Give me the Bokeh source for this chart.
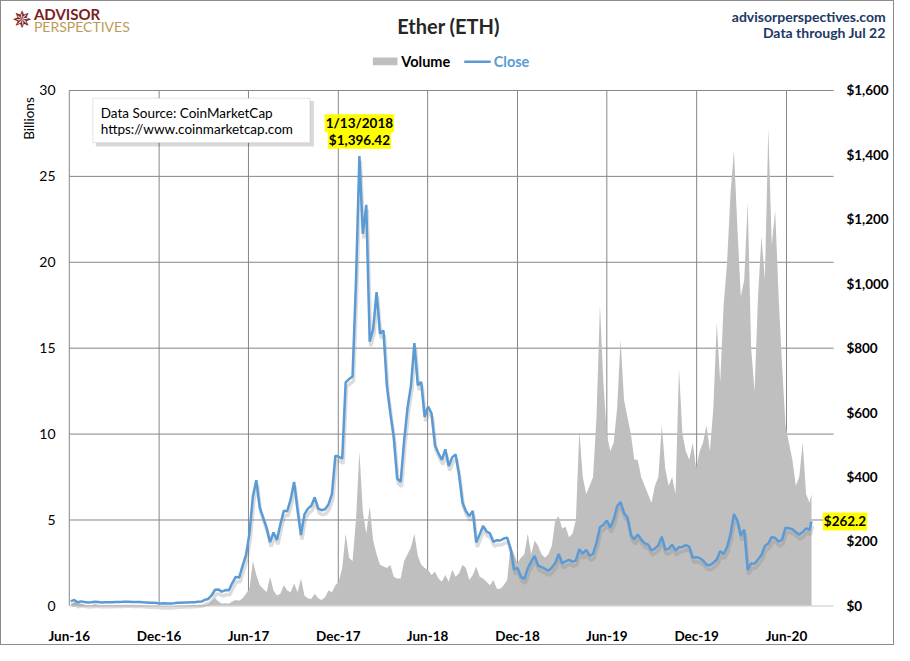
import numpy as np
import pandas as pd
from bokeh.plotting import figure
from bokeh.models import (Range1d, FixedTicker, DatetimeTickFormatter, Label,
                          BoxAnnotation, ColumnDataSource)
from bokeh.core.properties import value
from bokeh.embed import file_html
from bokeh.resources import INLINE

# ---------------- data (weekly, Saturdays from 2016-06-04, last point 2020-07-22) -------------
close_2016 = [13.8, 18.5, 11.5, 14.0,
              12.1, 10.9, 11.2, 12.9, 12.4,
              10.7, 11.6, 11.2, 11.2,
              12.1, 12.0, 12.5, 13.1,
              13.2, 12.0, 11.9, 12.0, 11.1,
              10.9, 10.1, 9.7, 8.7,
              7.7, 8.1, 7.8, 7.2, 8.0]
close_2017 = [9.9, 9.8, 10.7, 10.6,
              11.3, 11.4, 12.9, 13.4,
              19.0, 21.5, 33.0, 50.0,
              50.6, 44.4, 49.0, 48.6, 71.0,
              90.0, 88.0, 124, 158,
              225, 340, 390, 305,
              274, 242, 198, 228, 205,
              253, 295, 294, 331,
              385, 298, 220, 284, 302,
              311, 337, 302, 297,
              300, 315, 347, 466,
              463, 457, 694, 704, 712]
close_2018 = [1006, 1396.42, 1155, 1245,
              820, 860, 974, 845,
              855, 683, 599, 523, 395,
              385, 511, 615, 683,
              816, 685, 695, 587,
              619, 597, 498, 474, 453,
              486, 434, 461, 470,
              408, 321, 294, 279,
              295, 197, 222, 248, 231,
              225, 199, 204, 203,
              209, 212, 177, 113,
              118, 91, 84, 117, 138]
close_2019 = [155, 125, 120, 115,
              109, 119, 133, 161,
              132, 138, 143, 137, 141,
              176, 162, 174, 155,
              162, 196, 244, 251,
              265, 243, 268, 309, 322,
              288, 275, 220, 206,
              222, 206, 195, 190, 172,
              178, 188, 215, 174,
              177, 190, 172, 182,
              183, 189, 183, 150, 151,
              149, 141, 128, 126]
close_2020 = [134, 144, 170, 161,
              183, 223, 285, 265, 218,
              237, 112, 132, 131,
              144, 158, 186, 194,
              214, 211, 199, 206, 243,
              241, 238, 229, 221,
              229, 241, 236, 262.2]

volume_2016 = [0.08, 0.22, 0.28, 0.12,
               0.06, 0.04, 0.05, 0.10, 0.05,
               0.03, 0.02, 0.02, 0.02,
               0.02, 0.02, 0.02, 0.02,
               0.02, 0.02, 0.01, 0.01, 0.01,
               0.01, 0.01, 0.01, 0.01,
               0.01, 0.01, 0.01, 0.01, 0.01]
volume_2017 = [0.02, 0.01, 0.02, 0.01,
               0.01, 0.02, 0.02, 0.03,
               0.06, 0.08, 0.25, 0.45,
               0.25, 0.12, 0.15, 0.12, 0.25,
               0.35, 0.30, 0.45, 0.70,
               1.0, 2.6, 1.8, 1.2,
               1.0, 0.8, 1.7, 0.9, 0.6,
               0.7, 1.2, 0.9, 0.8,
               1.3, 0.8, 1.6, 0.6, 0.45,
               0.4, 0.7, 0.45, 0.35,
               0.5, 0.9, 0.8, 1.2,
               1.4, 2.2, 4.2, 2.8, 2.6]
volume_2018 = [5.0, 9.0, 5.5, 4.2,
               5.8, 3.8, 3.0, 2.4,
               2.3, 2.2, 2.4, 1.7, 1.6,
               1.6, 2.6, 3.0, 3.4,
               4.2, 2.9, 2.4, 2.2,
               2.1, 1.8, 2.0, 1.6, 1.4,
               1.8, 1.4, 2.1, 1.7,
               1.9, 2.4, 2.2, 1.5,
               1.8, 2.3, 1.7, 1.6, 1.4,
               1.2, 1.5, 1.0, 1.0,
               1.2, 1.5, 3.5, 3.0,
               2.5, 2.8, 3.0, 4.2, 3.0]
volume_2019 = [3.8, 3.5, 3.0, 2.8,
               3.0, 3.5, 5.0, 5.2,
               4.5, 4.6, 4.0, 4.2, 5.0,
               10.2, 7.5, 6.5, 7.0,
               7.5, 11.0, 17.5, 13.0,
               10.0, 9.0, 9.5, 11.5, 15.5,
               12.0, 11.0, 10.0, 8.5,
               8.5, 7.5, 7.0, 6.5, 6.0,
               7.0, 7.5, 10.5, 8.0,
               7.0, 7.5, 6.5, 13.8,
               10.0, 9.0, 8.5, 9.5, 8.0,
               9.0, 9.5, 10.5, 9.0]
volume_2020 = [11.5, 16.5, 13.0, 17.5,
               20.0, 24.0, 26.5, 22.0, 18.0,
               19.0, 23.5, 15.0, 12.5,
               18.0, 21.5, 19.0, 27.8,
               21.0, 23.0, 18.0, 14.0, 10.5,
               9.5, 8.5, 7.0, 7.5,
               9.5, 6.5, 6.0, 6.5]

xtick_dates = ["2016-06-01", "2016-12-01", "2017-06-01", "2017-12-01", "2018-06-01",
               "2018-12-01", "2019-06-01", "2019-12-01", "2020-06-01"]
left_ticks = [0, 5, 10, 15, 20, 25, 30]
left_labels = ["0", "5", "10", "15", "20", "25", "30"]
price_ticks = [0, 200, 400, 600, 800, 1000, 1200, 1400, 1600]
price_labels = ["$0", "$200", "$400", "$600", "$800", "$1,000", "$1,200", "$1,400", "$1,600"]
peak_date = "2018-01-13"
peak_text = ["1/13/2018", "$1,396.42"]
last_text = "$262.2"

# ---------------- assemble -------------
dates = list(pd.date_range("2016-06-04", "2020-07-18", freq="7D")) + [pd.Timestamp("2020-07-22")]
close = close_2016 + close_2017 + close_2018 + close_2019 + close_2020
volume = volume_2016 + volume_2017 + volume_2018 + volume_2019 + volume_2020
assert len(dates) == len(close) == len(volume), (len(dates), len(close), len(volume))

dates = pd.to_datetime(dates)
src = ColumnDataSource(dict(
    date=dates, close=close, volume=volume,
    date_s=dates + pd.Timedelta(days=2), close_s=np.array(close) - 14.0))

def ms(s):
    return pd.Timestamp(s).value / 1e6

# data window of the chart (left gridline .. right end of the plot area)
d0_ms = ms("2016-06-01")
d1_ms = ms("2020-09-05")
VMAX = left_ticks[-1]
PMAX = price_ticks[-1]

# layout helpers: positions measured on the 910x661 reference picture
def X(rx):
    return d0_ms + (rx - 69) / 778.0 * (d1_ms - d0_ms)

def Y(ry):
    return (625 - ry) / 533.0 * VMAX

FONT = "Lato"
W, H = 894, 645
FRAME_BOTTOM_REF = 637            # frame reaches a bit below the zero line
frame_h = int(round(FRAME_BOTTOM_REF * H / 661.0))
BOTTOM = H - frame_h

p = figure(width=W, height=H, x_axis_type="datetime",
           x_range=Range1d(X(0), X(910)), y_range=Range1d(Y(FRAME_BOTTOM_REF), Y(0)),
           output_backend="svg", toolbar_location=None,
           min_border_left=0, min_border_right=0, min_border_top=0, min_border_bottom=BOTTOM,
           y_axis_location=None)
p.extra_y_ranges = {"price": Range1d(Y(FRAME_BOTTOM_REF) / VMAX * PMAX, Y(0) / VMAX * PMAX)}
p.outline_line_color = None
p.background_fill_color = "white"
p.border_fill_color = "white"
p.xgrid.visible = False
p.ygrid.visible = False
p.styles = {"border": "1px solid #8c8c8c"}

xt = [ms(d) for d in xtick_dates]

# gridlines (behind the volume area)
p.segment(x0=xt, y0=[0] * len(xt), x1=xt, y1=[VMAX] * len(xt), line_color="#868686", line_width=1)
p.segment(x0=[d0_ms] * (len(left_ticks) - 1), y0=left_ticks[1:],
          x1=[d1_ms] * (len(left_ticks) - 1), y1=left_ticks[1:], line_color="#868686", line_width=1)

p.varea(x="date", y1=0, y2="volume", source=src, fill_color="#BFBFBF")
p.segment(x0=[d0_ms], y0=[0], x1=[d1_ms], y1=[0], line_color="#D9D9D9", line_width=1.5)
p.line(x="date_s", y="close_s", source=src, y_range_name="price",
       line_color="#808080", line_alpha=0.28, line_width=3.5)
p.line(x="date", y="close", source=src, y_range_name="price",
       line_color="#5B9BD5", line_width=2.5)

# bottom date axis
p.xaxis.ticker = FixedTicker(ticks=xt)
fmt = "%b-%y"
p.xaxis.formatter = DatetimeTickFormatter(milliseconds=fmt, seconds=fmt, minsec=fmt, minutes=fmt,
                                          hourmin=fmt, hours=fmt, days=fmt, months=fmt, years=fmt)
p.xaxis.major_label_text_font = FONT
p.xaxis.major_label_text_font_style = "bold"
p.xaxis.major_label_text_font_size = "13.5px"
p.xaxis.major_label_text_color = "#000000"
p.xaxis.major_tick_line_color = None
p.xaxis.minor_tick_line_color = None
p.xaxis.axis_line_color = None
p.xaxis.major_label_standoff = 4

# left and right value scales
p.text(x=[X(55)] * len(left_ticks), y=left_ticks, text=left_labels,
       text_font=value(FONT), text_font_size="14px", text_color="#000000",
       text_align="right", text_baseline="middle")
p.text(x=[X(860)] * len(price_ticks), y=price_ticks, text=price_labels, y_range_name="price",
       text_font=value(FONT), text_font_size="13.5px", text_font_style="bold",
       text_color="#000000", text_align="left", text_baseline="middle")

def lab(text, x, y, size, color="#000000", style="normal", align="left", font=FONT, **kw):
    l = Label(x=x, y=y, text=text, text_font=font, text_font_size=size, text_color=color,
              text_font_style=style, text_align=align, text_baseline="middle", **kw)
    p.add_layout(l)
    return l

# header
lab("\u2735", X(21), Y(19), "24px", color="#7B1E22", align="center", font="DejaVu Sans")
lab("ADVISOR", X(33), Y(13), "15px", color="#7B1E22", style="bold")
lab("PERSPECTIVES", X(33), Y(26), "14px", color="#BD9B55")
lab("Ether (ETH)", X(455), Y(25), "20px", color="#262626", style="bold", align="center")
lab("advisorperspectives.com", X(900), Y(15), "14px", color="#203864", style="bold", align="right")
lab("Data through Jul 22", X(900), Y(32), "14px", color="#203864", style="bold", align="right")

# legend
p.add_layout(BoxAnnotation(left=X(378), right=X(403), top=Y(58), bottom=Y(66),
                           fill_color="#BFBFBF", fill_alpha=1, line_color=None))
lab("Volume", X(407), Y(62), "14.5px", style="bold")
p.add_layout(BoxAnnotation(left=X(471), right=X(498), top=Y(61), bottom=Y(63.5),
                           fill_color="#5B9BD5", fill_alpha=1, line_color=None))
lab("Close", X(501), Y(62), "14.5px", color="#5B9BD5", style="bold")

# y-axis title
lab("Billions", X(28), Y(121), "13.5px", align="center", angle=np.pi / 2)

# data source box
p.add_layout(BoxAnnotation(left=X(96), right=X(318), top=Y(103), bottom=Y(150),
                           fill_color="#000000", fill_alpha=0.15, line_color=None))
p.add_layout(BoxAnnotation(left=X(93), right=X(314), top=Y(100), bottom=Y(146),
                           fill_color="white", fill_alpha=1, line_color="#A6A6A6", line_width=1))
lab("Data Source: CoinMarketCap", X(101), Y(115), "13.5px")
lab("https://www.coinmarketcap.com", X(101), Y(132), "13.5px")

# peak annotation
lab(peak_text[0], ms(peak_date), Y(126), "13.5px", style="bold", align="center",
    background_fill_color="#FFFF00", padding=1)
lab(peak_text[1], ms(peak_date), Y(143), "13.5px", style="bold", align="center",
    background_fill_color="#FFFF00", padding=1)

# last value
lab(last_text, X(836), close[-1], "13.5px", style="bold",
    background_fill_color="#FFFF00", padding=1, y_range_name="price")

open("out.html", "w").write(file_html(p, INLINE))
